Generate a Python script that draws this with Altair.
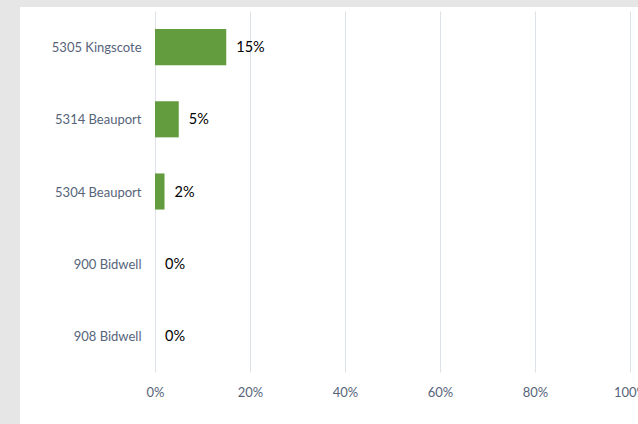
import altair as alt
import pandas as pd

categories = ["5305 Kingscote", "5314 Beauport", "5304 Beauport", "900 Bidwell", "908 Bidwell"]
values = [0.15, 0.05, 0.02, 0.0, 0.0]
labels = ["15%", "5%", "2%", "0%", "0%"]

df = pd.DataFrame({"cat": categories, "val": values, "lab": labels})

FONT = "Lato"
GRAY = "#e6e6e6"

one = pd.DataFrame({"a": [0]})
left_strip = alt.Chart(one).mark_rect(color=GRAY).encode(
    x=alt.value(-155), x2=alt.value(-135), y=alt.value(-11), y2=alt.value(413)
)
top_strip = alt.Chart(one).mark_rect(color=GRAY).encode(
    x=alt.value(-155), x2=alt.value(483), y=alt.value(-11), y2=alt.value(-4)
)

y_enc = alt.Y("cat:N", sort=categories, title=None,
              scale=alt.Scale(paddingInner=0.5, paddingOuter=0.25),
              axis=alt.Axis(domain=False, ticks=False, labelPadding=14, labelFontSize=13,
                            labelColor="#56647a", labelFont=FONT, labelOffset=1))
x_enc = alt.X("val:Q", title=None,
              scale=alt.Scale(domain=[0, 1], nice=False),
              axis=alt.Axis(format=".0%", values=[0, 0.2, 0.4, 0.6, 0.8, 1.0], domain=False, ticks=False,
                            labelPadding=14, labelFontSize=13, labelColor="#56647a", labelFont=FONT,
                            grid=True, gridColor="#dde1e8", labelFlush=False))

bars = alt.Chart(df).mark_bar(color="#629c3f").encode(x=x_enc, y=y_enc)

text = alt.Chart(df).mark_text(align="left", dx=10, dy=1, fontSize=14.5, color="#000000", font=FONT).encode(
    x="val:Q", y=alt.Y("cat:N", sort=categories), text="lab:N"
)

chart = alt.layer(left_strip, top_strip, bars, text).properties(
    width=475, height=361,
    autosize=alt.AutoSizeParams(type="none"),
    padding={"left": 155, "top": 11, "right": 8, "bottom": 52},
    background="white",
).configure_view(stroke=None)

chart.save("out.html", embed_options={"renderer": "svg", "actions": False})
